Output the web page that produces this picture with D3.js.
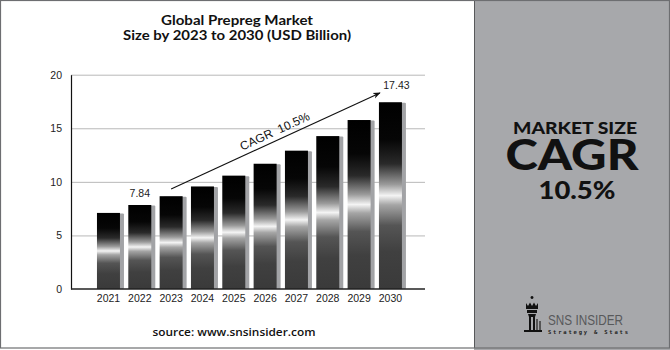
<!DOCTYPE html>
<html><head><meta charset="utf-8">
<script src="https://cdn.jsdelivr.net/npm/d3@7"></script>
<style>
html,body{margin:0;padding:0;background:#fff;}
svg{display:block;}
</style></head>
<body>
<svg id="c" width="670" height="350"></svg>
<script>
const years = ["2021","2022","2023","2024","2025","2026","2027","2028","2029","2030"];
const values = [7.10, 7.84, 8.66, 9.57, 10.58, 11.69, 12.91, 14.27, 15.77, 17.43];
const yTicks = [0, 5, 10, 15, 20];
const labeledYears = ["2022", "2030"];
const titleLines = ["Global Prepreg Market", "Size by 2023 to 2030 (USD Billion)"];
const cagrText = "CAGR  10.5%";
const arrowFrom = {year: "2023", value: 9.33};
const arrowTo = {year: "2030", value: 18.3};

const svg = d3.select("#c");
const W = 670, H = 350;

// background panels
svg.append("rect").attr("x",0).attr("y",0).attr("width",W).attr("height",H).attr("fill","#fff");
svg.append("rect").attr("x",474).attr("y",0).attr("width",W-474).attr("height",H).attr("fill","#a7a8ab");
svg.append("line").attr("x1",474.5).attr("x2",474.5).attr("y1",0).attr("y2",348).attr("stroke","#58595b").attr("stroke-width",1);
svg.append("rect").attr("x",0.5).attr("y",0.5).attr("width",W-1).attr("height",347.5).attr("fill","none").attr("stroke","#6d6e71").attr("stroke-width",1.2);

const x = d3.scaleBand().domain(years).range([86, 412.9]).paddingInner(0.266).paddingOuter(0.35);
const y = d3.scaleLinear().domain([0,20]).range([289, 74.7]);

// gridlines
svg.append("g").selectAll("line").data(yTicks.filter(d=>d>0)).join("line")
  .attr("x1",71).attr("x2",425).attr("y1",d=>y(d)+0.5).attr("y2",d=>y(d)+0.5)
  .attr("stroke","#b9b9b9").attr("stroke-width",1);

// y axis
const yAxis = svg.append("g").attr("transform","translate(71,0)")
  .call(d3.axisLeft(y).tickValues(yTicks).tickSize(0).tickPadding(9));
yAxis.select(".domain").attr("stroke","#111").attr("stroke-width",1.2);
yAxis.selectAll("text").attr("font-family","Liberation Sans, Arial, sans-serif").attr("font-size",10.5).attr("fill","#222");

// gradient
const defs = svg.append("defs");
const g = defs.append("linearGradient").attr("id","barGrad").attr("x1",0).attr("x2",0).attr("y1",0).attr("y2",1);
[[0,"#000"],[0.2,"#060606"],[0.33,"#2a2a2a"],[0.44,"#9a9a9a"],[0.5,"#f4f4f4"],[0.55,"#a5a5a5"],[0.66,"#555"],[0.8,"#404040"],[1,"#3a3a3a"]]
  .forEach(s=>g.append("stop").attr("offset",s[0]).attr("stop-color",s[1]));

const bars = svg.append("g");
// shadows
bars.selectAll("rect.sh").data(values).join("rect").attr("class","sh")
  .attr("x",(d,i)=>x(years[i])+4).attr("y",d=>y(d)+0.5)
  .attr("width",x.bandwidth()).attr("height",d=>y(0)-y(d)-0.5)
  .attr("fill","#a2a3a6").attr("rx",1);
bars.selectAll("rect.b").data(values).join("rect").attr("class","b")
  .attr("x",(d,i)=>x(years[i])).attr("y",d=>y(d))
  .attr("width",x.bandwidth()).attr("height",d=>y(0)-y(d))
  .attr("fill","url(#barGrad)");

// x axis baseline
svg.append("line").attr("x1",71).attr("x2",425).attr("y1",y(0)).attr("y2",y(0)).attr("stroke","#222").attr("stroke-width",1.4);

// x labels
const xAxis = svg.append("g").attr("transform",`translate(0,${y(0)})`)
  .call(d3.axisBottom(x).tickSize(0).tickPadding(6));
xAxis.select(".domain").remove();
xAxis.selectAll("text").attr("font-family","Liberation Sans, Arial, sans-serif").attr("font-size",10.5).attr("fill","#222");

// value labels
svg.append("g").selectAll("text").data(labeledYears).join("text")
  .attr("x",d=>x(d)+x.bandwidth()/2 + (d==="2030"?6:0))
  .attr("y",d=>y(values[years.indexOf(d)]) - (d==="2030"?13:8))
  .attr("text-anchor","middle").attr("font-family","Liberation Sans, Arial, sans-serif")
  .attr("font-size",10.5).attr("fill","#222").text(d=>values[years.indexOf(d)].toFixed(2));

// arrow
defs.append("marker").attr("id","ah").attr("viewBox","0 0 10 10").attr("refX",9).attr("refY",5)
  .attr("markerWidth",7).attr("markerHeight",7).attr("orient","auto")
  .append("path").attr("d","M0,1 L10,5 L0,9 L3,5 Z").attr("fill","#111");
const ax1 = x(arrowFrom.year)+x.bandwidth()/2, ay1 = y(arrowFrom.value);
const ax2 = x(arrowTo.year)+1, ay2 = y(arrowTo.value);
svg.append("line").attr("x1",ax1).attr("y1",ay1).attr("x2",ax2).attr("y2",ay2)
  .attr("stroke","#111").attr("stroke-width",1.1).attr("marker-end","url(#ah)");
const ang = Math.atan2(ay2-ay1, ax2-ax1)*180/Math.PI;
const tx = ax1 + (ax2-ax1)*0.5, ty = ay1 + (ay2-ay1)*0.5;
svg.append("text").attr("transform",`translate(${tx+1},${ty-6}) rotate(${ang})`)
  .attr("text-anchor","middle").attr("font-family","Liberation Sans, Arial, sans-serif")
  .attr("font-size",12).attr("fill","#111").attr("xml:space","preserve").style("white-space","pre").text(cagrText);

// title
const titleW = [152, 228];
svg.append("g").selectAll("text").data(titleLines).join("text")
  .attr("x",237).attr("y",(d,i)=>25+i*15).attr("text-anchor","middle")
  .attr("font-family","Lato, sans-serif").attr("font-weight",700).attr("font-size",12.3).attr("fill","#111")
  .attr("textLength",(d,i)=>titleW[i]).attr("lengthAdjust","spacingAndGlyphs").text(d=>d);

// source
svg.append("text").attr("x",234).attr("y",336).attr("text-anchor","middle")
  .attr("font-family","Open Sans, sans-serif").attr("font-weight",600).attr("font-size",11.5).attr("fill","#111")
  .attr("textLength",163).attr("lengthAdjust","spacingAndGlyphs")
  .text("source: www.snsinsider.com");

// right panel text
const rp = svg.append("g").attr("font-family","Lato, 'Open Sans', sans-serif").attr("font-weight",900).attr("fill","#111").attr("text-anchor","middle");
rp.append("text").attr("x",575).attr("y",134).attr("font-size",17).attr("textLength",124).attr("lengthAdjust","spacingAndGlyphs").text("MARKET SIZE");
rp.append("text").attr("x",572).attr("y",170).attr("font-size",42).attr("textLength",133).attr("lengthAdjust","spacingAndGlyphs").text("CAGR");
rp.append("text").attr("x",577).attr("y",199).attr("font-size",24).attr("textLength",77).attr("lengthAdjust","spacingAndGlyphs").text("10.5%");

// logo
const lg = svg.append("g").attr("transform","translate(524,299)");
lg.append("path").attr("fill","#111").attr("d",
  "M8,0 a1.5,1.5 0 1,1 0.01,0 Z M2,4 L4,7 L6,3.5 L8,7 L10,3.5 L12,7 L14,4 L14,10 L2,10 Z M3,11 L13,11 L13,14 L3,14 Z M4,15 L12,15 L11,18 L5,18 Z M5,18 L7,18 L7,31 L5,31 Z M9,18 L11,18 L11,31 L9,31 Z M0,31 L18,31 L18,33 L0,33 Z");
lg.append("path").attr("fill","#555").attr("d","M12,20 L14,20 L14,31 L12,31 Z M15,22 L17,22 L17,31 L15,31 Z");
svg.append("text").attr("x",548).attr("y",325).attr("font-family","'Liberation Sans Narrow', 'Liberation Sans', sans-serif")
  .attr("font-size",15).attr("fill","#58595b").attr("textLength",75).attr("lengthAdjust","spacingAndGlyphs").text("SNS INSIDER");
svg.append("text").attr("x",548).attr("y",333.5).attr("font-family","'DejaVu Sans Mono', monospace").attr("font-weight",700)
  .attr("font-size",5.5).attr("fill","#222").attr("textLength",80).attr("lengthAdjust","spacing").text("Strategy & Stats");
</script>
</body></html>
